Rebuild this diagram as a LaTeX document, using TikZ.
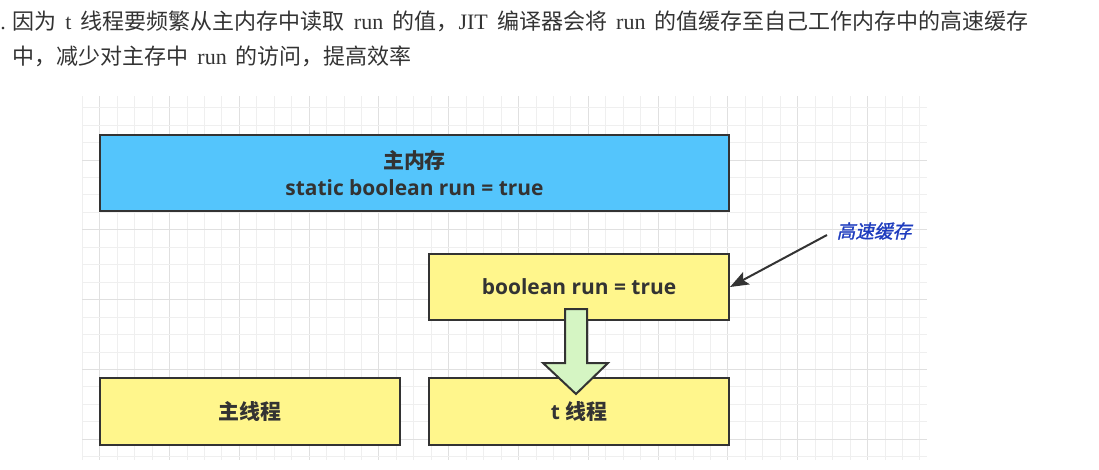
\documentclass[tikz,border=0pt]{standalone}
\usepackage{fontspec}
\setmainfont{Liberation Serif}
\newfontfamily\cjk{Noto Sans CJK SC}
\newfontfamily\cjki{Noto Sans CJK SC}[FakeSlant=0.22,FakeBold=1.3]
\newfontfamily\osans{Open Sans}
\usetikzlibrary{arrows.meta}
\definecolor{mainblue}{HTML}{54C5FC}
\definecolor{boxyellow}{HTML}{FFF68C}
\definecolor{arrowgreen}{HTML}{D5F5C3}
\definecolor{edge}{HTML}{333333}
\definecolor{txt}{HTML}{333333}
\definecolor{lblblue}{HTML}{1E3CBE}
\definecolor{gridminor}{HTML}{EFEFEF}
\definecolor{gridmajor}{HTML}{E0E0E0}
\newcommand\hsp{\hspace{6.9pt}}
\tikzset{
  membox/.style={draw=edge, line width=1.5pt, inner sep=0pt, align=center,
    text=txt, font=\fontsize{15.7pt}{21pt}\selectfont\bfseries},
  headtext/.style={anchor=base west, inner sep=0pt, text=txt,
    font=\fontsize{16.5pt}{20pt}\selectfont},
}
\begin{document}
\begin{tikzpicture}[x=0.75pt,y=-0.75pt]
\useasboundingbox (0,0) rectangle (1099,470);
% grid
\foreach \k in {0,...,48}{
  \pgfmathsetmacro\gx{82.3+17.45*\k}
  \pgfmathtruncatemacro\gm{mod(\k,4)}
  \ifnum\gm=1
    \draw[gridmajor, line width=0.75pt] (\gx,96) -- (\gx,460);
  \else
    \draw[gridminor, line width=0.75pt] (\gx,96) -- (\gx,460);
  \fi
}
\foreach \k in {0,...,20}{
  \pgfmathsetmacro\gy{107.7+17.45*\k}
  \pgfmathtruncatemacro\gm{mod(\k,4)}
  \ifnum\gm=3
    \draw[gridmajor, line width=0.75pt] (82,\gy) -- (927,\gy);
  \else
    \draw[gridminor, line width=0.75pt] (82,\gy) -- (927,\gy);
  \fi
}
% header text
\node[headtext] (dot) at (0,30) {.};
\node[headtext] (l1) at (12,30) {{\cjk 因为}\hsp t\hsp{\cjk 线程要频繁从主内存中读取}\hsp run\hsp{\cjk 的值，}JIT\hsp{\cjk 编译器会将}\hsp run\hsp{\cjk 的值缓存至自己工作内存中的高速缓存}};
\node[headtext] (l2) at (12,65) {{\cjk 中，减少对主存中}\hsp run\hsp{\cjk 的访问，提高效率}};
% boxes
\node[membox, fill=mainblue, minimum width=629*0.75pt, minimum height=76*0.75pt] (main) at (414.5,173)
  {{\cjk 主内存}\\[-1pt]{\osans static boolean run = true}};
\node[membox, fill=boxyellow, minimum width=300*0.75pt, minimum height=66*0.75pt] (cache) at (579,287)
  {\osans boolean run = true};
\node[membox, fill=boxyellow, minimum width=300*0.75pt, minimum height=67*0.75pt] (mt) at (250,411.5)
  {\cjk 主线程};
\node[membox, fill=boxyellow, minimum width=300*0.75pt, minimum height=67*0.75pt] (tt) at (579,411.5)
  {{\osans t} {\cjk 线程}};
% block arrow from cache to t thread
\draw[edge, line width=1.5pt, fill=arrowgreen, line join=miter]
  (565,309) -- (587,309) -- (587,363) -- (608,363) -- (576,394) -- (543,363) -- (565,363) -- cycle;
% label and pointer
\node[inner sep=0pt, text=lblblue, font=\fontsize{14pt}{16pt}\selectfont\cjki] (lbl) at (874,231) {高速缓存};
\coordinate (ls) at (827,235);
\draw[edge, line width=1.5pt, -{Stealth[length=14pt, width=10.5pt, inset=3pt]}] (ls) -- (cache.east);
\end{tikzpicture}
\end{document}
